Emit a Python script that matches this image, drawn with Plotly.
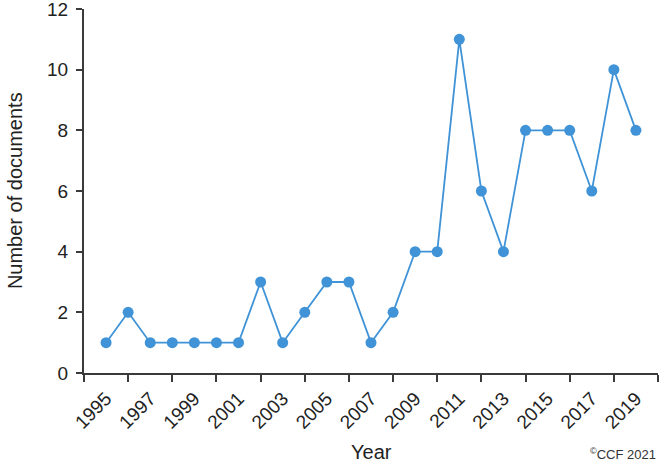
import plotly.graph_objects as go

years = list(range(1995, 2020))
docs = [1, 2, 1, 1, 1, 1, 1, 3, 1, 2, 3, 3, 1, 2, 4, 4, 11, 6, 4, 8, 8, 8, 6, 10, 8]
label_years = list(range(1995, 2020, 2))

blue = '#3f93d6'
axis_col = '#3a3a3a'

fig = go.Figure()
fig.add_trace(go.Scatter(
    x=years, y=docs, mode='lines+markers',
    line=dict(color=blue, width=1.8),
    marker=dict(color=blue, size=11),
    showlegend=False,
))

fig.update_layout(
    width=661, height=466,
    margin=dict(l=84, r=3, t=9, b=93, autoexpand=False),
    plot_bgcolor='white', paper_bgcolor='white',
    font=dict(family='Liberation Sans, Arial, sans-serif', color='#222', size=19),
    xaxis=dict(
        range=[1994, 2020], tickvals=label_years, ticktext=[str(y) for y in label_years],
        tickangle=-45, ticks='', ticklabelstandoff=5,
        showline=True, linecolor=axis_col, linewidth=2, showgrid=False, zeroline=False,
        minor=dict(tick0=1994, dtick=2, ticks='outside', ticklen=7, tickwidth=2,
                   tickcolor=axis_col, showgrid=False),
        automargin=False, ticklabeloverflow='allow',
    ),
    yaxis=dict(
        range=[0, 12], tickvals=[0, 2, 4, 6, 8, 10, 12], ticks='outside', ticklen=6,
        tickwidth=2, tickcolor=axis_col, showline=True, linecolor=axis_col, linewidth=2,
        showgrid=False, zeroline=False, ticklabelstandoff=4, automargin=False,
        ticklabeloverflow='allow',
    ),
)

# axis titles
fig.add_annotation(text='Year', xref='paper', yref='paper', x=0.5, y=-0.217,
                   xanchor='center', yanchor='middle', showarrow=False, font=dict(size=20))
fig.add_annotation(text='Number of documents', xref='paper', yref='paper', x=-0.12, y=0.5,
                   xanchor='center', yanchor='middle', textangle=-90, showarrow=False,
                   font=dict(size=20))

fig.add_annotation(
    text='<sup>©</sup>CCF 2021', xref='paper', yref='paper', x=1.0, y=-0.195,
    xanchor='right', yanchor='top', showarrow=False,
    font=dict(size=13, color='#333'),
)

# page body has a default 8px margin; drop it so the figure fills the window
fig.write_html('out.html', config={'displayModeBar': False},
               post_script="document.body.style.margin='0px';")
